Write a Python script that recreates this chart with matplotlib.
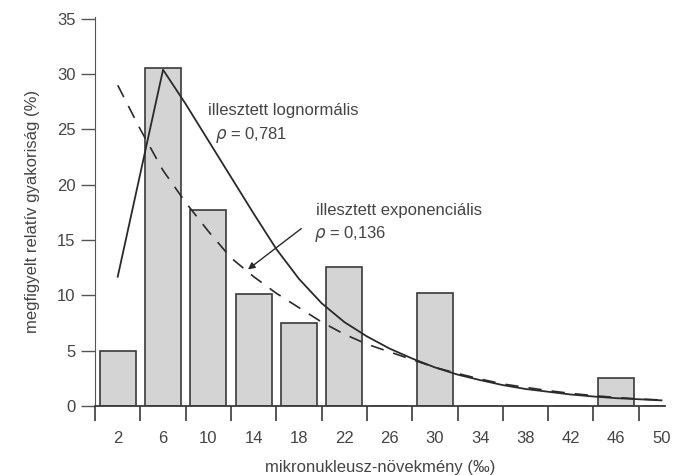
import matplotlib
matplotlib.use("Agg")
import matplotlib.pyplot as plt

plt.rcParams['font.family'] = ['Liberation Sans', 'DejaVu Sans']

# Observed relative frequency (%) per bin
bin_centers = [2, 6, 10, 14, 18, 22, 26, 30, 34, 38, 42, 46, 50]
frequency = [5.0, 30.6, 17.7, 10.1, 7.5, 12.6, 0, 10.2, 0, 0, 0, 2.5, 0]

# Fitted lognormal curve
lognorm_x = [2, 6, 8, 10, 12, 14, 16, 18, 20, 22, 24, 26, 28, 30, 32, 34,
             36, 38, 40, 42, 44, 46, 48, 50]
lognorm_y = [11.7, 30.4, 27.3, 24.0, 20.7, 17.4, 14.2, 11.5, 9.3, 7.6, 6.3,
             5.2, 4.3, 3.5, 2.85, 2.35, 1.9, 1.55, 1.3, 1.05, 0.87, 0.72,
             0.62, 0.52]

# Fitted exponential curve
expo_x = [2, 4, 6, 8, 10, 12, 14, 16, 18, 20, 22, 24, 26, 28, 30, 32, 34,
          36, 38, 40, 42, 44, 46, 48, 50]
expo_y = [29.0, 25.0, 21.3, 18.4, 15.8, 13.4, 11.7, 10.2, 8.9, 7.6, 6.5,
          5.6, 4.9, 4.2, 3.5, 2.95, 2.45, 2.0, 1.7, 1.4, 1.15, 0.95, 0.78,
          0.65, 0.55]

x_ticks = [2, 6, 10, 14, 18, 22, 26, 30, 34, 38, 42, 46, 50]
y_ticks = [0, 5, 10, 15, 20, 25, 30, 35]

text_color = "#444444"
line_color = "#2a2a2a"

fig = plt.figure(figsize=(6.84, 4.75), dpi=100)
ax = fig.add_axes([0.139, 0.145, 0.833, 0.82])

ax.bar(bin_centers, frequency, width=3.2, color="#d4d4d4",
       edgecolor="#3a3a3a", linewidth=1.2, zorder=2)

ax.plot(lognorm_x, lognorm_y, color=line_color, lw=1.3, zorder=3)
dash_line, = ax.plot(expo_x, expo_y, color=line_color, lw=1.2, zorder=3)
dash_line.set_dashes((8, 6))

# Annotations
ax.text(10.0, 26.7, "illesztett lognormális", fontsize=12, color=text_color,
        va="center")
ax.text(10.6, 24.5, r"$\rho$ = 0,781", fontsize=12, color=text_color,
        va="center")
ax.text(19.5, 17.7, "illesztett exponenciális", fontsize=12,
        color=text_color, va="center")
ax.text(19.3, 15.6, r"$\rho$ = 0,136", fontsize=12, color=text_color,
        va="center")
ax.annotate("", xy=(13.3, 12.2), xytext=(18.4, 16.2),
            arrowprops=dict(arrowstyle="-|>", color=line_color, lw=1.0,
                            mutation_scale=10))

# Axes styling
ax.set_xlim(0, 50.3)
ax.set_ylim(0, 35.2)
ax.set_xticks(x_ticks)
ax.set_xticklabels([str(v) for v in x_ticks])
ax.set_xticks(list(range(0, 49, 4)), minor=True)
ax.tick_params(axis="x", which="major", length=0, pad=18,
               labelsize=12, labelcolor=text_color)
ax.tick_params(axis="x", which="minor", length=11, width=1.2,
               color="#3a3a3a", direction="out")
ax.set_yticks(y_ticks)
ax.tick_params(axis="y", length=10, width=1.0, color="#555555",
               labelsize=12, labelcolor=text_color, pad=4)

for side in ["top", "right"]:
    ax.spines[side].set_visible(False)
ax.spines["left"].set_color("#555555")
ax.spines["bottom"].set_color("#3a3a3a")
ax.spines["bottom"].set_linewidth(1.3)

ax.set_xlabel("mikronukleusz-növekmény (‰)", fontsize=12, color=text_color,
              labelpad=10)
ax.set_ylabel("megfigyelt relatív gyakoriság (%)", fontsize=12,
              color=text_color, labelpad=12)

fig.savefig("out.png", dpi=100)
